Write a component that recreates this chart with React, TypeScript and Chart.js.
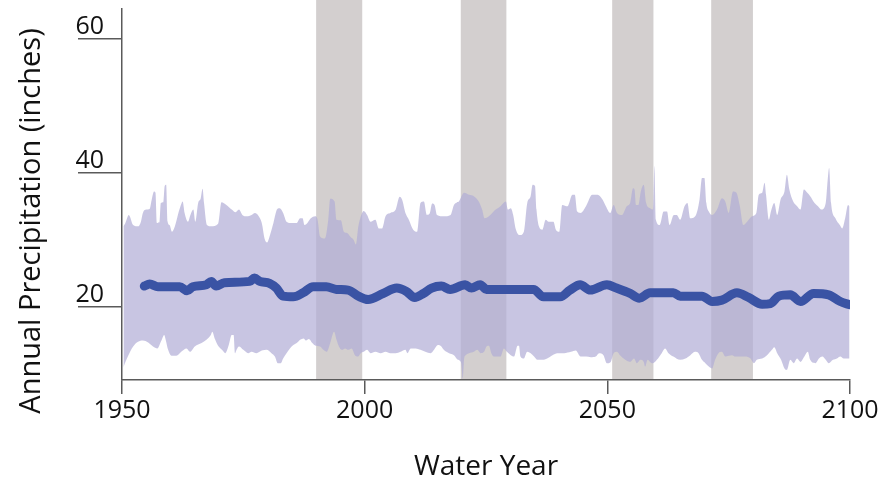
import React, { useEffect, useRef } from "react";
import { Chart, registerables } from "chart.js";

Chart.register(...registerables);

const FONT = '"Open Sans", "Noto Sans", sans-serif';

const xTitle = "Water Year";
const yTitle = "Annual Precipitation (inches)";
const xTicks = [1950, 2000, 2050, 2100];
const yTicks = [20, 40, 60];

// Highlighted periods (start year, end year)
const bandStarts = [1990, 2019.8, 2051, 2071.4];
const bandEnds = [1999.5, 2029.2, 2059.5, 2080];

// Upper edge of the ensemble envelope
const upperYears = [
  1950.3, 1950.7, 1951.4, 1952.3, 1953.3, 1953.9, 1954.3, 1955.0, 1955.7, 1956.1, 1956.6, 1956.9, 1957.2, 1957.7,
  1958.0, 1958.5, 1958.8, 1959.1, 1959.4, 1959.8, 1960.3, 1960.9, 1961.7, 1962.3, 1962.5, 1962.9, 1963.6, 1964.1,
  1964.7, 1965.1, 1965.7, 1966.2, 1966.6, 1966.9, 1967.5, 1968.4, 1969.8, 1970.5, 1971.5, 1972.6, 1973.4, 1974.1,
  1974.8, 1975.7, 1976.7, 1977.4, 1978.1, 1978.8, 1979.4, 1979.9, 1980.5, 1981.2, 1982.0, 1982.5, 1983.2, 1983.9,
  1984.9, 1986.0, 1986.7, 1987.2, 1987.6, 1988.2, 1988.9, 1989.8, 1990.3, 1990.8, 1991.8, 1992.5, 1992.9, 1993.8,
  1994.2, 1995.1, 1995.7, 1996.4, 1997.1, 1997.7, 1998.2, 1998.7, 1999.3, 1999.8, 2000.5, 2001.2, 2002.2, 2002.9,
  2003.6, 2004.3, 2005.3, 2006.4, 2007.2, 2007.7, 2008.4, 2009.1, 2010.0, 2010.8, 2011.5, 2012.2, 2012.8, 2013.4,
  2013.9, 2014.4, 2014.9, 2016.3, 2017.7, 2018.4, 2019.4, 2020.5, 2021.5, 2022.5, 2023.5, 2024.2, 2024.7, 2025.6,
  2027.0, 2028.0, 2029.1, 2029.5, 2030.1, 2030.6, 2031.1, 2032.0, 2032.8, 2033.5, 2034.2, 2034.6, 2035.1, 2035.4,
  2035.9, 2036.6, 2037.3, 2037.9, 2038.9, 2039.4, 2040.1, 2040.7, 2041.8, 2042.8, 2043.3, 2043.8, 2044.5, 2045.6,
  2046.9, 2048.0, 2049.0, 2049.7, 2050.6, 2051.3, 2052.0, 2053.0, 2054.0, 2054.7, 2055.3, 2055.6, 2055.9, 2056.4,
  2056.9, 2057.5, 2058.0, 2058.8, 2059.4, 2059.7, 2060.0, 2060.8, 2061.6, 2062.3, 2062.8, 2063.7, 2064.3, 2065.0,
  2065.9, 2066.5, 2067.1, 2068.1, 2069.0, 2069.5, 2070.0, 2070.4, 2070.9, 2071.6, 2072.6, 2073.6, 2074.3, 2075.0,
  2075.9, 2076.6, 2077.3, 2078.0, 2078.8, 2079.8, 2080.7, 2081.2, 2081.9, 2082.4, 2082.7, 2083.3, 2083.7, 2084.4,
  2085.0, 2085.7, 2086.5, 2087.0, 2087.5, 2088.3, 2089.1, 2089.8, 2090.5, 2091.2, 2091.8, 2092.7, 2093.4, 2094.1,
  2095.0, 2095.4, 2095.7, 2096.1, 2097.0, 2097.9, 2098.4, 2099.0, 2099.6, 2099.9,
];
const upperValues = [
  32.0, 32.5, 33.7, 32.2, 32.0, 32.7, 34.0, 34.5, 34.6, 35.9, 37.2, 37.0, 32.5, 32.6,
  35.5, 35.6, 38.0, 38.2, 32.7, 32.2, 31.2, 32.0, 34.2, 35.5, 35.7, 34.0, 32.7, 33.7,
  34.5, 32.7, 35.5, 36.1, 37.6, 35.5, 32.2, 32.0, 32.4, 35.6, 35.2, 34.5, 34.1, 34.5,
  33.7, 33.5, 33.7, 34.0, 33.6, 32.5, 30.1, 29.6, 30.7, 32.5, 34.6, 34.7, 34.0, 32.7,
  32.5, 32.5, 33.2, 33.2, 32.2, 32.5, 33.2, 33.5, 33.0, 30.5, 30.2, 33.0, 36.1, 35.7,
  33.0, 32.9, 31.2, 31.0, 30.4, 30.0, 29.3, 32.0, 33.7, 34.3, 33.7, 32.7, 33.0, 31.7,
  31.7, 33.5, 34.0, 34.5, 36.4, 36.0, 34.0, 33.0, 31.5, 31.2, 35.5, 35.7, 33.7, 33.9,
  35.4, 35.2, 33.7, 33.5, 33.7, 35.2, 35.7, 37.0, 36.7, 36.5, 35.7, 34.5, 33.2, 33.5,
  34.5, 35.0, 35.7, 34.5, 34.7, 33.7, 31.7, 30.7, 31.2, 35.5, 36.5, 38.2, 38.0, 34.5,
  32.0, 31.5, 33.0, 32.7, 32.7, 31.5, 31.2, 35.2, 35.0, 36.7, 36.7, 34.2, 34.0, 35.0,
  36.7, 36.7, 36.0, 35.0, 34.0, 35.2, 34.0, 33.7, 35.0, 35.5, 37.7, 37.5, 35.2, 35.2,
  37.2, 38.2, 35.5, 34.7, 34.5, 41.0, 33.0, 32.2, 34.2, 34.2, 32.2, 33.7, 33.7, 33.0,
  35.0, 35.5, 33.2, 33.5, 36.0, 39.2, 39.2, 35.5, 34.2, 33.7, 34.5, 36.2, 35.7, 34.0,
  37.2, 37.0, 35.0, 32.2, 32.7, 33.5, 34.0, 36.7, 37.0, 38.5, 36.7, 33.0, 34.2, 35.5,
  33.7, 36.0, 37.2, 39.7, 37.5, 35.7, 35.0, 34.5, 37.5, 37.0, 36.5, 35.5, 35.0, 34.5,
  35.5, 38.9, 40.7, 35.5, 33.2, 32.2, 31.7, 33.2, 35.2, 35.0,
];

// Lower edge of the ensemble envelope
const lowerYears = [
  1950.3, 1950.6, 1951.2, 1952.3, 1953.3, 1954.3, 1955.4, 1956.4, 1957.3, 1958.0, 1958.3, 1958.7, 1959.0, 1959.5,
  1960.2, 1961.2, 1962.2, 1963.3, 1964.0, 1965.0, 1966.4, 1967.4, 1968.3, 1968.6, 1969.1, 1969.8, 1970.6, 1971.3,
  1972.0, 1972.6, 1973.0, 1973.3, 1973.6, 1974.1, 1975.0, 1976.0, 1976.7, 1977.7, 1978.8, 1979.8, 1980.8, 1981.5,
  1982.1, 1982.7, 1983.2, 1983.9, 1984.6, 1985.3, 1986.0, 1986.7, 1987.4, 1987.9, 1988.5, 1989.2, 1989.9, 1990.8,
  1991.5, 1992.2, 1992.9, 1993.7, 1994.2, 1994.7, 1995.3, 1996.0, 1996.6, 1997.3, 1998.0, 1998.6, 1999.2, 1999.8,
  2000.5, 2001.2, 2002.2, 2003.3, 2004.3, 2005.3, 2006.4, 2007.4, 2008.4, 2008.8, 2009.5, 2010.5, 2011.5, 2012.5,
  2013.6, 2014.3, 2015.1, 2015.8, 2016.3, 2017.4, 2018.4, 2019.2, 2019.9, 2020.2, 2020.5, 2020.8, 2021.5, 2022.5,
  2023.2, 2023.9, 2024.6, 2025.1, 2025.6, 2026.1, 2026.6, 2027.3, 2028.0, 2028.7, 2029.3, 2030.1, 2030.8, 2031.5,
  2031.8, 2032.1, 2032.8, 2033.5, 2034.2, 2034.9, 2035.6, 2036.6, 2037.6, 2038.7, 2039.7, 2041.1, 2042.5, 2043.5,
  2044.5, 2045.6, 2046.6, 2047.6, 2048.3, 2049.2, 2049.9, 2050.7, 2051.3, 2052.0, 2052.6, 2053.7, 2054.7, 2055.5,
  2056.1, 2056.8, 2057.5, 2057.8, 2058.3, 2058.8, 2059.4, 2060.2, 2061.2, 2061.9, 2062.6, 2063.6, 2065.0, 2066.1,
  2067.1, 2068.1, 2068.8, 2069.5, 2070.2, 2070.9, 2071.6, 2072.2, 2072.9, 2073.6, 2074.3, 2075.0, 2075.7, 2076.4,
  2077.4, 2078.4, 2079.5, 2080.2, 2080.8, 2081.9, 2082.9, 2083.9, 2084.4, 2085.0, 2085.8, 2086.5, 2087.0, 2087.7,
  2088.4, 2089.1, 2089.8, 2090.6, 2091.3, 2091.8, 2092.9, 2093.6, 2094.3, 2095.0, 2095.6, 2096.5, 2097.3, 2098.0,
  2098.7, 2099.9,
];
const lowerValues = [
  11.0, 11.6, 12.6, 14.1, 14.8, 15.0, 14.7, 14.1, 13.8, 14.8, 15.3, 15.8, 15.1, 13.6,
  12.7, 12.7, 13.3, 13.8, 13.3, 14.1, 14.6, 15.1, 15.8, 16.3, 15.3, 14.2, 13.6, 13.1,
  14.3, 15.8, 15.8, 13.1, 13.6, 14.1, 13.6, 13.1, 13.3, 13.1, 13.5, 13.6, 13.1, 12.6,
  11.6, 11.6, 12.3, 13.1, 13.8, 14.3, 14.6, 15.1, 15.3, 15.0, 15.2, 14.6, 14.2, 14.1,
  13.6, 13.3, 14.6, 16.3, 15.1, 14.1, 13.6, 13.8, 13.6, 13.8, 12.8, 12.6, 13.1, 13.3,
  13.6, 13.1, 13.3, 13.1, 13.3, 13.1, 13.1, 13.3, 13.6, 13.1, 13.8, 13.8, 13.6, 13.3,
  13.1, 13.6, 14.3, 14.1, 13.6, 13.1, 12.8, 12.1, 11.6, 9.3, 12.3, 12.8, 13.1, 13.3,
  13.6, 13.1, 13.3, 14.1, 14.2, 13.1, 12.6, 12.6, 12.6, 13.8, 13.3, 12.8, 12.6, 14.2,
  14.2, 12.6, 12.3, 13.3, 13.1, 12.6, 12.1, 12.1, 12.3, 12.8, 13.1, 13.1, 13.3, 13.5,
  12.6, 12.6, 12.5, 12.6, 13.1, 12.8, 11.6, 11.8, 13.1, 13.3, 12.8, 12.1, 11.8, 12.3,
  11.6, 12.1, 11.8, 11.1, 12.1, 11.8, 11.6, 12.1, 13.1, 13.8, 13.1, 12.6, 12.1, 12.3,
  12.8, 13.3, 13.1, 12.1, 11.6, 11.1, 10.8, 12.1, 13.1, 13.3, 12.6, 12.7, 12.8, 12.6,
  12.6, 12.6, 12.3, 11.6, 12.1, 12.3, 12.8, 13.6, 14.0, 13.1, 12.1, 10.8, 10.6, 12.1,
  11.6, 12.3, 11.8, 12.6, 13.3, 12.1, 11.6, 12.3, 12.6, 12.1, 11.6, 12.1, 12.3, 12.6,
  12.3, 12.3,
];

// Smoothed ensemble mean
const meanYears = [
  1954.6, 1955.7, 1957.4, 1961.9, 1963.4, 1964.6, 1967.4, 1968.4, 1969.4, 1971.1, 1976.3, 1977.3, 1978.4, 1980.4,
  1981.8, 1983.2, 1985.3, 1987.3, 1989.4, 1992.1, 1994.2, 1996.6, 1998.7, 2000.7, 2003.8, 2006.6, 2008.6, 2010.3,
  2012.1, 2013.8, 2015.8, 2017.6, 2020.7, 2022.0, 2023.8, 2025.1, 2034.8, 2036.8, 2040.3, 2042.3, 2044.4, 2046.5,
  2049.9, 2051.9, 2054.7, 2056.6, 2058.8, 2063.6, 2065.0, 2069.5, 2071.6, 2073.6, 2076.7, 2079.1, 2081.9, 2083.6,
  2085.3, 2087.7, 2089.8, 2092.5, 2095.6, 2098.0, 2100.0,
];
const meanValues = [
  23.1, 23.4, 23.0, 23.0, 22.4, 23.0, 23.3, 23.8, 23.1, 23.6, 23.8, 24.3, 23.8, 23.5,
  22.8, 21.6, 21.5, 22.1, 23.0, 23.0, 22.6, 22.5, 21.6, 21.1, 22.0, 22.8, 22.3, 21.4,
  22.0, 22.8, 23.1, 22.6, 23.3, 22.8, 23.3, 22.6, 22.6, 21.5, 21.5, 22.5, 23.3, 22.5,
  23.3, 22.8, 22.0, 21.3, 22.1, 22.1, 21.6, 21.6, 20.8, 21.0, 22.1, 21.4, 20.4, 20.5,
  21.6, 21.8, 20.8, 22.0, 21.8, 20.8, 20.3,
];

const toPoints = (xs: number[], ys: number[]) => xs.map((x, i) => ({ x, y: ys[i] }));

const bandsPlugin = {
  id: "periodBands",
  beforeDraw(chart: any) {
    const { ctx, chartArea, scales } = chart;
    const x = scales.x;
    ctx.save();
    ctx.fillStyle = "#d3cfcf";
    bandStarts.forEach((s, i) => {
      const x0 = x.getPixelForValue(s);
      const x1 = x.getPixelForValue(bandEnds[i]);
      ctx.fillRect(x0, 0, x1 - x0, chartArea.bottom - 1);
    });
    ctx.restore();
  },
};

const yTitlePlugin = {
  id: "yTitle",
  afterDraw(chart: any) {
    const { ctx, chartArea } = chart;
    ctx.save();
    ctx.translate(32, chartArea.bottom - 159);
    ctx.rotate(-Math.PI / 2);
    ctx.font = `29px ${FONT}`;
    ctx.fillStyle = "#111";
    ctx.textAlign = "center";
    ctx.textBaseline = "middle";
    ctx.fillText(yTitle, 0, 0);
    ctx.restore();
  },
};

export default function App() {
  const ref = useRef<HTMLCanvasElement | null>(null);
  useEffect(() => {
    if (!ref.current) return;
    const axisColor = "#5a5a5a";
    const chart = new Chart(ref.current, {
      type: "line",
      data: {
        datasets: [
          {
            label: "Mean",
            data: toPoints(meanYears, meanValues),
            borderColor: "#3a53a4",
            borderWidth: 9,
            pointRadius: 0,
            fill: false,
            cubicInterpolationMode: "monotone",
            borderCapStyle: "round",
            borderJoinStyle: "round",
          },
          {
            label: "Max",
            data: toPoints(upperYears, upperValues),
            borderColor: "transparent",
            borderWidth: 0,
            pointRadius: 0,
            fill: false,
            cubicInterpolationMode: "monotone",
          },
          {
            label: "Min",
            data: toPoints(lowerYears, lowerValues),
            borderColor: "transparent",
            borderWidth: 0,
            pointRadius: 0,
            fill: "-1",
            backgroundColor: "rgba(176,172,214,0.7)",
            cubicInterpolationMode: "monotone",
          },
        ],
      },
      options: {
        responsive: false,
        animation: false,
        events: [],
        layout: { padding: { top: 9, right: 32, bottom: 0, left: 0 } },
        plugins: { legend: { display: false }, tooltip: { enabled: false } },
        scales: {
          x: {
            type: "linear",
            min: 1950,
            max: 2100,
            afterBuildTicks: (s: any) => {
              s.ticks = xTicks.map((v) => ({ value: v }));
            },
            afterFit: (s: any) => {
              s.height = 100;
            },
            grid: { drawOnChartArea: false, drawTicks: true, tickLength: 14, color: axisColor, lineWidth: 1.5 },
            border: { display: true, color: axisColor, width: 1.5 },
            ticks: {
              color: "#111",
              font: { family: FONT, size: 25 },
              padding: 2,
              maxRotation: 0,
              autoSkip: false,
              callback: (v: any) => String(v),
            },
            title: {
              display: true,
              text: xTitle,
              color: "#111",
              font: { family: FONT, size: 28 },
              padding: { top: 0, bottom: -4 },
            },
          },
          y: {
            type: "linear",
            min: 9.1,
            max: 64.4,
            afterBuildTicks: (s: any) => {
              s.ticks = yTicks.map((v) => ({ value: v }));
            },
            afterFit: (s: any) => {
              s.width = 122;
            },
            grid: { drawOnChartArea: false, drawTicks: true, tickLength: 44, color: axisColor, lineWidth: 1.5 },
            border: { display: true, color: axisColor, width: 1.5 },
            ticks: {
              color: "#111",
              font: { family: FONT, size: 25 },
              padding: -26,
              labelOffset: -12,
              callback: (v: any) => String(v),
            },
          },
        },
      },
      plugins: [bandsPlugin, yTitlePlugin],
    } as any);
    return () => chart.destroy();
  }, []);
  return (
    <div style={{ position: "fixed", left: 0, top: 0, width: 882, height: 480, background: "#fff" }}>
      <canvas ref={ref} width={882} height={480} style={{ display: "block" }} />
    </div>
  );
}
